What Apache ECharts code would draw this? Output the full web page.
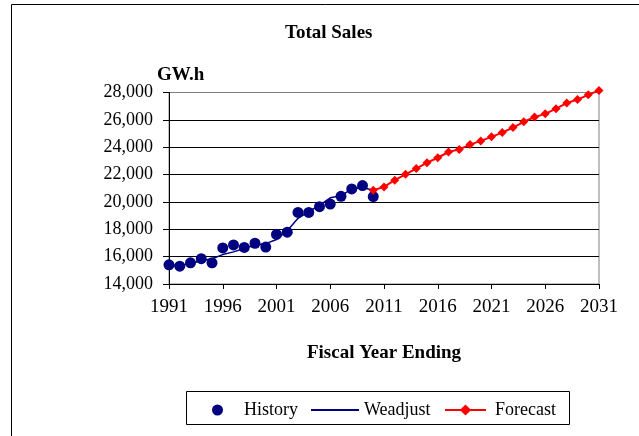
<!DOCTYPE html>
<html>
<head>
<meta charset="utf-8">
<script src="https://cdn.jsdelivr.net/npm/echarts@6/dist/echarts.min.js"></script>
<style>
    html, body { margin: 0; padding: 0; background: #fff; }
    #chart { width: 639px; height: 436px; }
</style>
</head>
<body>
<div id="chart"></div>
<script>
// categories, 1991 - 2031
var years = [];
for (var y = 1991; y <= 2031; y++) years.push(String(y));

// history values 1991 - 2010  (not named "history", that clashes with window.history)
var historySales = [15400, 15300, 15550, 15850, 15550, 16640, 16860, 16670, 16980, 16700,
                    17620, 17790, 19230, 19230, 19650, 19840, 20410, 20950, 21200, 20390];

// weather adjusted line 1991 - 2010
var weadjust = [15400, 15350, 15500, 15700, 15850, 16150, 16350, 16600, 16850, 16950,
                17250, 17900, 18800, 19300, 19750, 20300, 20450, 20950, 21050, 20850];

// forecast 2010 - 2031
var forecast = [20850, 21100, 21590, 22020, 22440, 22870, 23230, 23650, 23840, 24190,
                24460, 24760, 25070, 25440, 25860, 26200, 26440, 26820, 27230, 27480,
                27830, 28150];

var yTicks = { min: 14000, max: 28000, step: 2000 };

var FONT = '"Liberation Serif", "Times New Roman", serif';

function pad(arr, before, total) {
    var out = [];
    for (var i = 0; i < total; i++) {
        var k = i - before;
        out.push(k >= 0 && k < arr.length ? arr[k] : null);
    }
    return out;
}

// scatter needs [x, y] pairs
function pairs(arr, before) {
    return arr.map(function (v, i) { return [years[i + before], v]; });
}

var chart = echarts.init(document.getElementById('chart'), null, { renderer: 'canvas' });

var option = {
    backgroundColor: '#fff',
    animation: false,
    title: [
        {
            text: 'Total Sales', left: 280, top: 19,
            textStyle: { fontFamily: FONT, fontSize: 19, fontWeight: 'bold', color: '#000' }
        },
        {
            text: 'GW.h', left: 152, top: 61,
            textStyle: { fontFamily: FONT, fontSize: 19, fontWeight: 'bold', color: '#000' }
        }
    ],
    grid: {
        left: 169, right: 40, top: 92.5, bottom: 152,
        show: true, borderColor: '#808080', borderWidth: 1, backgroundColor: 'transparent'
    },
    xAxis: {
        type: 'category',
        data: years,
        boundaryGap: false,
        name: 'Fiscal Year Ending',
        nameLocation: 'middle',
        nameGap: 60,
        nameTextStyle: { fontFamily: FONT, fontSize: 19, fontWeight: 'bold', color: '#000' },
        axisLine: { lineStyle: { color: '#000', width: 1 } },
        axisTick: { interval: 4, length: 5, lineStyle: { color: '#000' } },
        axisLabel: { interval: 4, margin: 14, fontFamily: FONT, fontSize: 19, color: '#000' },
        splitLine: { show: false }
    },
    yAxis: {
        type: 'value',
        min: yTicks.min,
        max: yTicks.max,
        interval: yTicks.step,
        axisLine: { show: true, lineStyle: { color: '#000', width: 1 } },
        axisTick: { show: true, length: 6, lineStyle: { color: '#000' } },
        axisLabel: {
            margin: 16, fontFamily: FONT, fontSize: 18, color: '#000',
            formatter: function (v) { return v.toLocaleString('en-US'); }
        },
        splitLine: { show: true, showMaxLine: false, lineStyle: { color: '#000', width: 1 } }
    },
    legend: [
        {
            data: ['History'], left: 212, top: 401, padding: 0, itemWidth: 11, itemHeight: 13,
            textStyle: { fontFamily: FONT, fontSize: 18, color: '#000', padding: [0, 0, 0, 16] }
        },
        {
            data: ['Weadjust'], left: 310, top: 401, padding: 0, itemWidth: 48, itemHeight: 14,
            itemStyle: { opacity: 0 },
            textStyle: { fontFamily: FONT, fontSize: 18, color: '#000' }
        },
        {
            data: ['Forecast'], left: 444, top: 401, padding: 0, itemWidth: 41, itemHeight: 14,
            textStyle: { fontFamily: FONT, fontSize: 18, color: '#000', padding: [0, 0, 0, 4] }
        }
    ],
    graphic: [
        {
            type: 'rect', silent: true,
            shape: { x: 11.5, y: 4.5, width: 700, height: 500 },
            style: { fill: 'none', stroke: '#000', lineWidth: 1 }
        },
        {
            type: 'rect', silent: true,
            shape: { x: 186.5, y: 391.5, width: 383, height: 33 },
            style: { fill: 'none', stroke: '#000', lineWidth: 1 }
        }
    ],
    series: [
        {
            name: 'Weadjust',
            type: 'line',
            data: pad(weadjust, 0, years.length),
            symbol: 'none',
            lineStyle: { color: '#000080', width: 1.5 },
            itemStyle: { color: '#000080' },
            z: 2
        },
        {
            name: 'History',
            type: 'scatter',
            data: pairs(historySales, 0),
            symbol: 'circle',
            symbolSize: 11,
            itemStyle: { color: '#000080', opacity: 1 },
            z: 3
        },
        {
            name: 'Forecast',
            type: 'line',
            data: pad(forecast, 19, years.length),
            symbol: 'diamond',
            symbolSize: 9,
            showAllSymbol: true,
            clip: false,
            lineStyle: { color: '#ff0000', width: 2 },
            itemStyle: { color: '#ff0000' },
            z: 4
        }
    ]
};

chart.setOption(option);
</script>
</body>
</html>
